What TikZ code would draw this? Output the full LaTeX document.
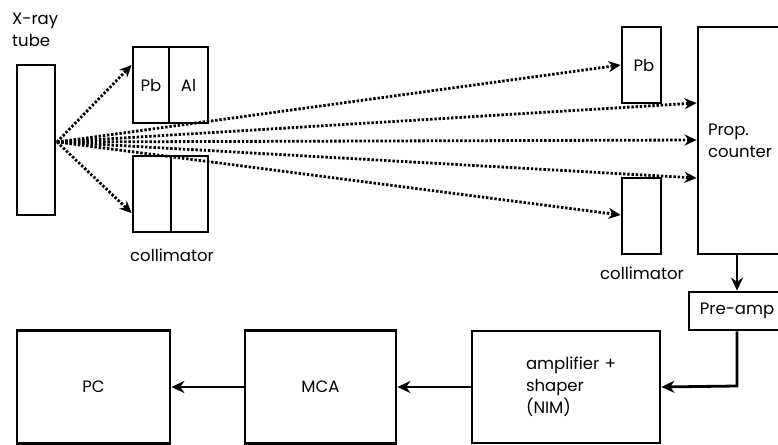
\documentclass[tikz,border=0pt]{standalone}
\usepackage{fontspec}
\setmainfont{Poppins}
\usepackage{tikz}
\usetikzlibrary{arrows.meta}

\begin{document}
\begin{tikzpicture}[
  x=1pt, y=-1pt,
  font=\fontsize{16.5}{22}\selectfont,
  box/.style={draw=black, line width=2.8pt, inner sep=0pt, align=center},
  txt/.style={inner sep=0pt, align=left},
  ray/.style={-{Stealth[length=12pt,width=11pt]}, line width=2.8pt, dash pattern=on 2.4pt off 1.8pt},
  arr/.style={-{Stealth[length=13pt,width=12pt]}, line width=2.8pt},
]
  \useasboundingbox (0,0) rectangle (778,444);
  % source and first collimator
  \node[box, minimum width=38, minimum height=150] (tube) at (36,140) {};
  \node[txt, anchor=north west] (tubelbl) at (12,13) {X-ray\\tube};
  \node[box, minimum width=36, minimum height=76] (pbA) at (151,85) {Pb};
  \node[box, minimum width=39, minimum height=76] (alA) at (188.5,85) {Al};
  \node[box, minimum width=38, minimum height=76] (colA) at (152,194) {};
  \node[box, minimum width=37, minimum height=76] (colB) at (189.5,194) {};
  \node[txt] (collblA) at (172,255) {collimator};
  % detector side
  \node[box, minimum width=39, minimum height=76] (pbB) at (641.5,65) {\hspace*{5pt}Pb};
  \node[box, minimum width=39, minimum height=76] (colC) at (641.5,216) {};
  \node[txt] (collblB) at (642,273) {collimator};
  \node[box, minimum width=110, minimum height=227, text width=90, align=left] (counter) at (753,140.5) {Prop.\\counter};
  \node[box, minimum width=96, minimum height=38] (preamp) at (737,311) {Pre-amp};
  % electronics
  \node[box, minimum width=188, minimum height=112, text width=80, align=left] (amp) at (566,387) {amplifier~+\\shaper\\(NIM)};
  \node[box, minimum width=151, minimum height=113] (mca) at (320.5,387) {MCA};
  \node[box, minimum width=153, minimum height=113] (pc) at (93.5,387) {PC};
  % ray end points
  \coordinate (src) at (57,142);
  \coordinate (hitA) at (pbA.west |- 0,65);
  \coordinate (hitB) at (colA.west |- 0,213);
  \coordinate (hitC) at (pbB.west);
  \coordinate (hitD) at (counter.west |- 0,103);
  \coordinate (hitE) at (counter.west |- 0,140);
  \coordinate (hitF) at (counter.west |- 0,178);
  \coordinate (hitG) at (colC.west |- 0,215);
  \foreach \h in {hitA,hitB,hitC,hitD,hitE,hitF,hitG}
    \draw[ray] (src) -- (\h);
  % signal chain
  \coordinate (ctout) at (737,254);
  \coordinate (bend) at (737,386);
  \draw[arr] (ctout) -- (preamp.north);
  \draw[arr] (preamp.south) -- (bend) -- (amp.east);
  \draw[arr] (amp.west) -- (mca.east);
  \draw[arr] (mca.west) -- (pc.east);
\end{tikzpicture}
\end{document}
